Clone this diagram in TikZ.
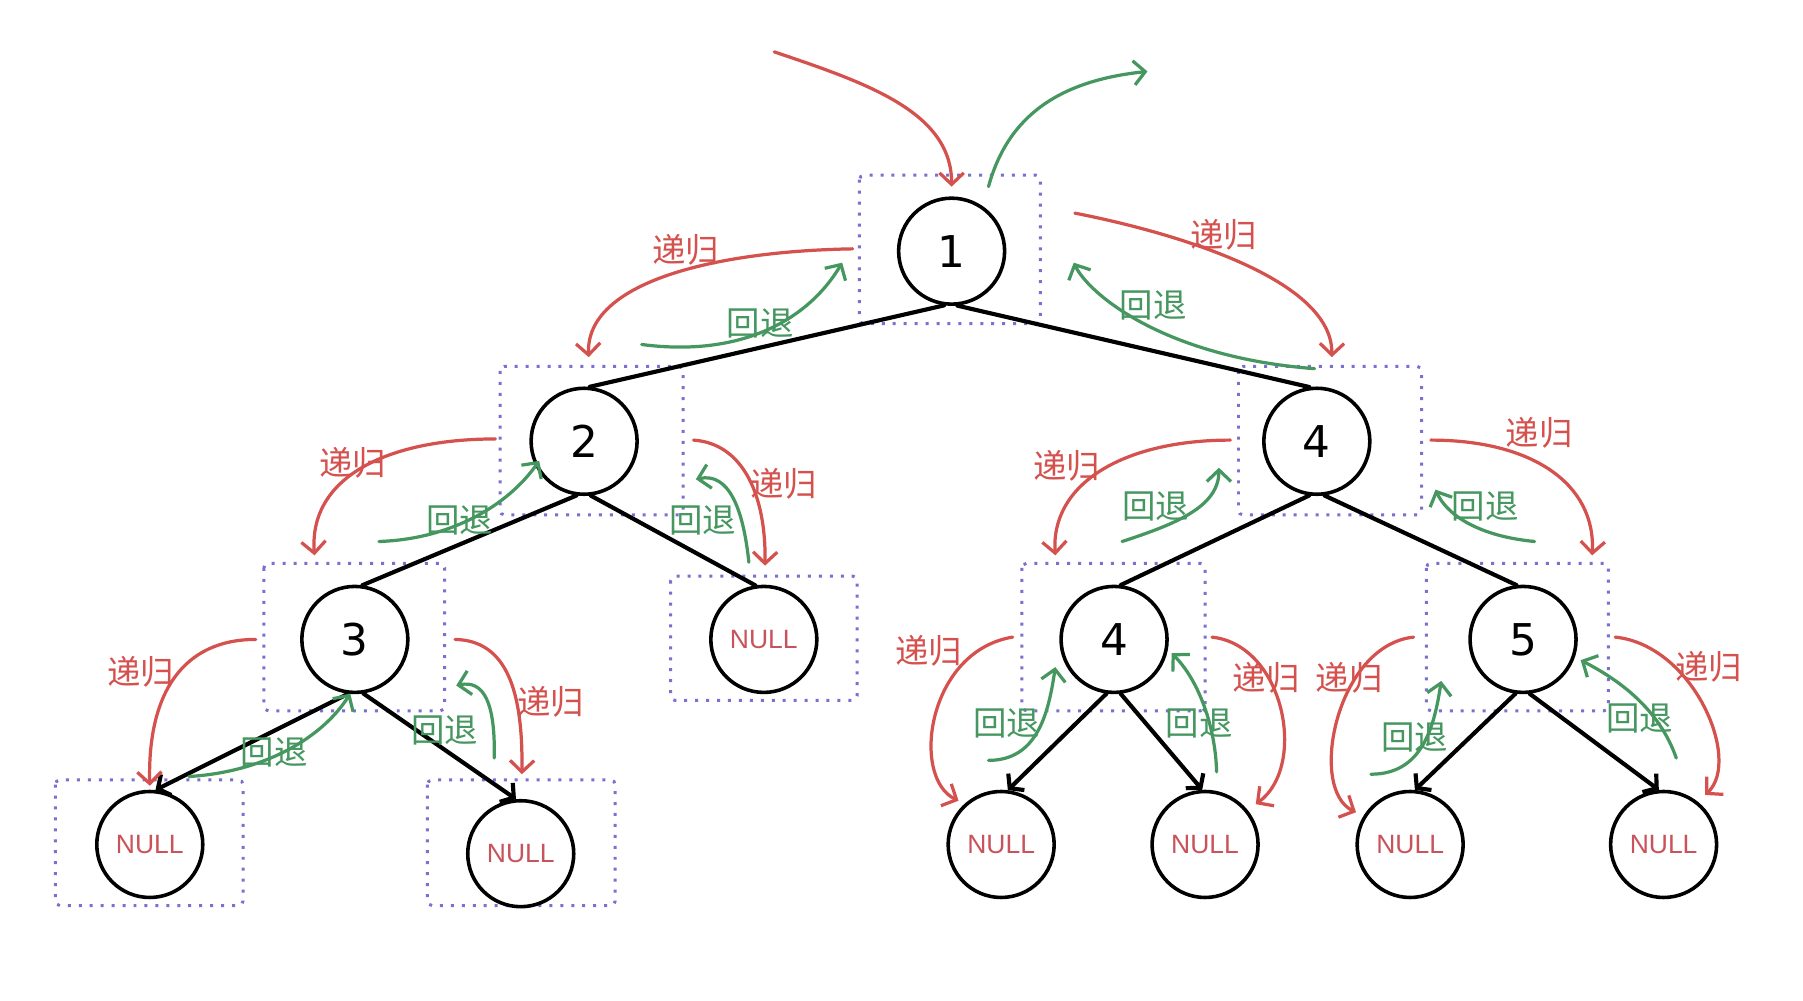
\documentclass[tikz,border=0pt]{standalone}
\usepackage{fontspec}
\setmainfont{DejaVu Sans}
\newfontfamily\cjkf{Noto Sans CJK SC}
\newfontfamily\nullf{Liberation Sans}
\usetikzlibrary{arrows.meta}
\definecolor{rec}{HTML}{D4514E}
\definecolor{bak}{HTML}{45975F}
\definecolor{boxc}{HTML}{7A70D0}
\definecolor{nulltxt}{HTML}{C9535A}
\begin{document}
\begin{tikzpicture}[x=1pt,y=-1pt,
  tnode/.style={circle,draw=black,line width=3.1pt,fill=white,minimum size=92pt,inner sep=0pt,font=\fontsize{38}{38}\selectfont},
  nullnode/.style={tnode,text=nulltxt,font=\nullf\fontsize{23}{23}\selectfont},
  dbox/.style={draw=boxc,line width=2.6pt,dash pattern=on 2.6pt off 6.9pt,rounded corners=4pt},
  edge/.style={draw=black,line width=3.6pt,line cap=round},
  edgearr/.style={edge,-{Straight Barb[length=8pt,width=20pt]}},
  recarr/.style={draw=rec,line width=2.8pt,line cap=round,-{Straight Barb[length=10pt,width=21pt]}},
  bakarr/.style={draw=bak,line width=2.8pt,line cap=round,-{Straight Barb[length=10pt,width=21pt]}},
  reclab/.style={text=rec,font=\cjkf\fontsize{29}{29}\selectfont,inner sep=0pt},
  baklab/.style={text=bak,font=\cjkf\fontsize{29}{29}\selectfont,inner sep=0pt}]
\useasboundingbox (0,0) rectangle (1565,868);
\fill[white] (0,0) rectangle (1565,868);

% dotted frames
\draw[dbox] (746,152) rectangle (903,281);
\draw[dbox] (434,318) rectangle (593,447);
\draw[dbox] (1075,318) rectangle (1234,447);
\draw[dbox] (229,489) rectangle (386,617);
\draw[dbox] (582,500) rectangle (744,608);
\draw[dbox] (887,489) rectangle (1046,617);
\draw[dbox] (1238,489) rectangle (1396,617);
\draw[dbox] (48,677) rectangle (211,786);
\draw[dbox] (371,677) rectangle (534,786);

% tree nodes
\node[tnode] (n1) at (826,218) {1};
\node[tnode] (n2) at (507,383) {2};
\node[tnode] (n4a) at (1143,383) {4};
\node[tnode] (n3) at (308,555) {3};
\node[nullnode] (z2) at (663,555) {NULL};
\node[tnode] (n4b) at (967,555) {4};
\node[tnode] (n5) at (1322,555) {5};
\node[nullnode] (z3l) at (130,733) {NULL};
\node[nullnode] (z3r) at (452,741) {NULL};
\node[nullnode] (z4l) at (869,733) {NULL};
\node[nullnode] (z4r) at (1046,733) {NULL};
\node[nullnode] (z5l) at (1224,733) {NULL};
\node[nullnode] (z5r) at (1444,733) {NULL};

% tree edges
\draw[edge] (n1.262) -- (n2.84);
\draw[edge] (n1.276) -- (n4a.98);
\draw[edge] (n2.262) -- (n3.82);
\draw[edge] (n2.277) -- (z2.99);
\draw[edge] (n4a.262) -- (n4b.83);
\draw[edge] (n4a.278) -- (n5.97);
\draw[edgearr] (n3.263) -- (z3l.84);
\draw[edgearr] (n3.279) -- (z3r.95);
\draw[edgearr] (n4b.262) -- (z4l.83);
\draw[edgearr] (n4b.277) -- (z4r.93);
\draw[edgearr] (n5.262) -- (z5l.85);
\draw[edgearr] (n5.277) -- (z5r.95);

% coordinates of the recursion arrows
\coordinate (r0s) at (672,45);    \coordinate (r0e) at (826,162);
\coordinate (r1s) at (740,216);   \coordinate (r1e) at (511,310);
\coordinate (r2s) at (933,185);   \coordinate (r2e) at (1156,310);
\coordinate (r3s) at (430,381);   \coordinate (r3e) at (273,482);
\coordinate (r4s) at (602,382);   \coordinate (r4e) at (664,491);
\coordinate (r5s) at (1068,382);  \coordinate (r5e) at (916,482);
\coordinate (r6s) at (1242,382);  \coordinate (r6e) at (1382,482);
\coordinate (r7s) at (222,555);   \coordinate (r7e) at (130,682);
\coordinate (r8s) at (395,555);   \coordinate (r8e) at (453,672);
\coordinate (r9s) at (879,553);   \coordinate (r9e) at (832,695);
\coordinate (r10s) at (1052,553); \coordinate (r10e) at (1090,698);
\coordinate (r11s) at (1227,553); \coordinate (r11e) at (1177,705);
\coordinate (r12s) at (1402,553); \coordinate (r12e) at (1480,690);

\draw[recarr] (r0s) .. controls (752,72) and (826,97) .. (r0e);
\draw[recarr] (r1s) .. controls (620,218) and (508,245) .. (r1e);
\draw[recarr] (r2s) .. controls (1010,200) and (1157,240) .. (r2e);
\draw[recarr] (r3s) .. controls (335,381) and (268,415) .. (r3e);
\draw[recarr] (r4s) .. controls (645,385) and (665,430) .. (r4e);
\draw[recarr] (r5s) .. controls (975,382) and (912,420) .. (r5e);
\draw[recarr] (r6s) .. controls (1330,382) and (1385,420) .. (r6e);
\draw[recarr] (r7s) .. controls (160,555) and (128,600) .. (r7e);
\draw[recarr] (r8s) .. controls (440,556) and (454,600) .. (r8e);
\draw[recarr] (r9s) .. controls (805,565) and (790,675) .. (r9e);
\draw[recarr] (r10s) .. controls (1115,560) and (1135,665) .. (r10e);
\draw[recarr] (r11s) .. controls (1160,560) and (1135,685) .. (r11e);
\draw[recarr] (r12s) .. controls (1470,560) and (1512,660) .. (r12e);

% coordinates of the back arrows
\coordinate (g0s) at (858,162);   \coordinate (g0e) at (996,62);
\coordinate (g1s) at (557,299);   \coordinate (g1e) at (731,228);
\coordinate (g2s) at (1141,320);  \coordinate (g2e) at (932,228);
\coordinate (g3s) at (329,470);   \coordinate (g3e) at (468,400);
\coordinate (g4s) at (650,488);   \coordinate (g4e) at (604,416);
\coordinate (g5s) at (974,470);   \coordinate (g5e) at (1058,406);
\coordinate (g6s) at (1332,470);  \coordinate (g6e) at (1246,425);
\coordinate (g7s) at (164,674);   \coordinate (g7e) at (304,602);
\coordinate (g8s) at (429,658);   \coordinate (g8e) at (396,595);
\coordinate (g9s) at (858,660);   \coordinate (g9e) at (916,579);
\coordinate (g10s) at (1056,670); \coordinate (g10e) at (1017,567);
\coordinate (g11s) at (1190,672); \coordinate (g11e) at (1251,591);
\coordinate (g12s) at (1455,658); \coordinate (g12e) at (1372,573);

\draw[bakarr] (g0s) .. controls (875,100) and (920,70) .. (g0e);
\draw[bakarr] (g1s) .. controls (640,310) and (700,280) .. (g1e);
\draw[bakarr] (g2s) .. controls (1010,310) and (945,255) .. (g2e);
\draw[bakarr] (g3s) .. controls (390,468) and (440,440) .. (g3e);
\draw[bakarr] (g4s) .. controls (645,440) and (632,410) .. (g4e);
\draw[bakarr] (g5s) .. controls (1020,455) and (1058,440) .. (g5e);
\draw[bakarr] (g6s) .. controls (1280,465) and (1255,445) .. (g6e);
\draw[bakarr] (g7s) .. controls (230,670) and (280,640) .. (g7e);
\draw[bakarr] (g8s) .. controls (430,610) and (420,590) .. (g8e);
\draw[bakarr] (g9s) .. controls (900,660) and (910,620) .. (g9e);
\draw[bakarr] (g10s) .. controls (1055,630) and (1040,590) .. (g10e);
\draw[bakarr] (g11s) .. controls (1235,672) and (1245,630) .. (g11e);
\draw[bakarr] (g12s) .. controls (1440,615) and (1405,590) .. (g12e);

% labels
\node[reclab] (l1) at (595,217) {递归};
\node[reclab] (l2) at (1062,204) {递归};
\node[reclab] (l3) at (306,402) {递归};
\node[reclab] (l4) at (680,420) {递归};
\node[reclab] (l5) at (926,404) {递归};
\node[reclab] (l6) at (1336,376) {递归};
\node[reclab] (l7) at (122,583) {递归};
\node[reclab] (l8) at (478,609) {递归};
\node[reclab] (l9) at (806,565) {递归};
\node[reclab] (l10) at (1099,588) {递归};
\node[reclab] (l11) at (1171,588) {递归};
\node[reclab] (l12) at (1483,579) {递归};

\node[baklab] (b1) at (660,281) {回退};
\node[baklab] (b2) at (1001,265) {回退};
\node[baklab] (b3) at (399,452) {回退};
\node[baklab] (b4) at (610,452) {回退};
\node[baklab] (b5) at (1003,440) {回退};
\node[baklab] (b6) at (1289,440) {回退};
\node[baklab] (b7) at (238,653) {回退};
\node[baklab] (b8) at (386,634) {回退};
\node[baklab] (b9) at (874,628) {回退};
\node[baklab] (b10) at (1041,628) {回退};
\node[baklab] (b11) at (1228,640) {回退};
\node[baklab] (b12) at (1423,624) {回退};
\end{tikzpicture}
\end{document}
